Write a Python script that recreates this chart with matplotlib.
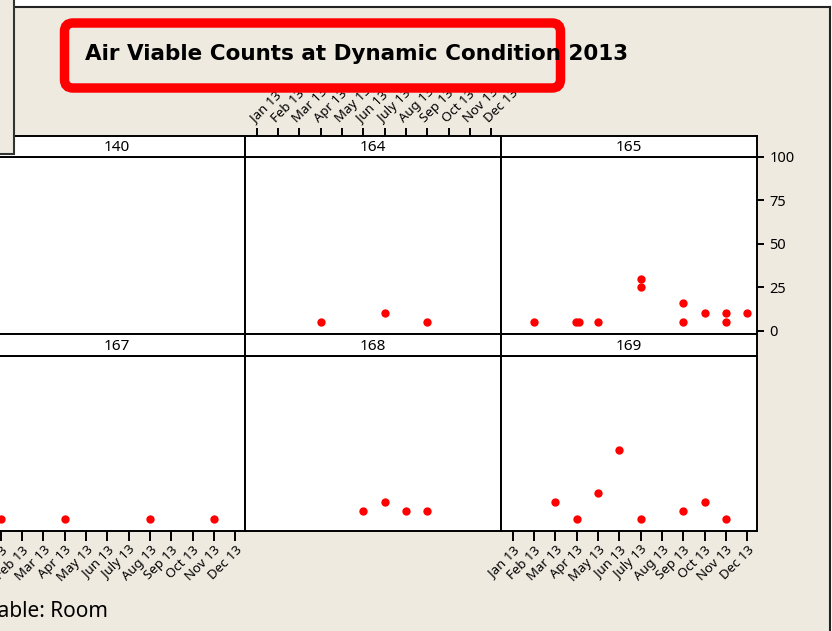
import matplotlib
matplotlib.use("Agg")
import matplotlib.pyplot as plt
from matplotlib.patches import Rectangle, FancyBboxPatch
from matplotlib.lines import Line2D

# ---------------------------------------------
# datos (mes 1 = Jan 13 ... 12 = Dec 13)
# ---------------------------------------------
month_labels = ['Jan 13', 'Feb 13', 'Mar 13', 'Apr 13', 'May 13', 'Jun 13',
                'July 13', 'Aug 13', 'Sep 13', 'Oct 13', 'Nov 13', 'Dec 13']
month_pos = list(range(1, 13))

room_140_month = []
room_140_count = []

room_164_month = [4, 7, 9]
room_164_count = [5, 10, 5]

room_165_month = [2, 3.95, 4.1, 5, 7, 7, 9, 9, 10, 11, 11, 12]
room_165_count = [5, 5, 5, 5, 30, 25, 16, 5, 10, 10, 5, 10]

room_167_month = [1, 4, 8, 11]
room_167_count = [5, 5, 5, 5]

room_168_month = [6, 7, 8, 9]
room_168_count = [10, 15, 10, 10]

room_169_month = [3, 4, 5, 6, 7, 9, 10, 11]
room_169_count = [15, 5, 20, 45, 5, 10, 15, 5]

rooms = ['140', '164', '165', '167', '168', '169']
months = [room_140_month, room_164_month, room_165_month,
          room_167_month, room_168_month, room_169_month]
counts = [room_140_count, room_164_count, room_165_count,
          room_167_count, room_168_count, room_169_count]

y_ticks = [0, 25, 50, 75, 100]

# ---------------------------------------------
# figura
# ---------------------------------------------
W, H = 832, 631
BG = '#EEEAE0'
FONT = 'Noto Sans'

fig = plt.figure(figsize=(W / 100, H / 100), dpi=100, facecolor=BG)


def rect_px(x0, y0, x1, y1):
    return [x0 / W, 1 - y1 / H, (x1 - x0) / W, (y1 - y0) / H]


def inch(x, y):
    return x / 100, (H - y) / 100


# zonas blancas fuera del marco
tr = fig.dpi_scale_trans
fig.add_artist(Rectangle(inch(0, 7), W / 100, 7 / 100, transform=tr,
                         facecolor='white', edgecolor='none', zorder=0))
fig.add_artist(Rectangle(inch(830, H), 2 / 100, H / 100, transform=tr,
                         facecolor='white', edgecolor='none', zorder=0))
fig.add_artist(Line2D([14 / 100, 830 / 100], [(H - 7) / 100] * 2, transform=tr,
                      color='#222222', lw=1.5, zorder=1))
fig.add_artist(Line2D([830 / 100] * 2, [(H - 7) / 100, 0], transform=tr,
                      color='#222222', lw=1.5, zorder=1))

# caja recortada a la izquierda
fig.add_artist(Rectangle(inch(-10, 154), 24 / 100, 164 / 100, transform=tr,
                         facecolor=BG, edgecolor='#333333', lw=1.5, zorder=2))

col_left = [-11, 245, 501]
col_w = 256
rows = [(136, 157, 334), (334, 356, 531)]

for i, room in enumerate(rooms):
    r, c = divmod(i, 3)
    s_top, p_top, p_bot = rows[r]
    x0 = col_left[c]
    x1 = x0 + col_w

    ax = fig.add_axes(rect_px(x0, p_top, x1, p_bot))
    ax.set_facecolor('white')
    ax.plot(months[i], counts[i], 'o', color='red', markersize=6,
            markeredgewidth=0, clip_on=False)
    ax.set_xlim(0.45, 12.45)
    ax.set_ylim(-1.9, 100)
    for sp in ax.spines.values():
        sp.set_linewidth(1.4)
        sp.set_color('black')
    ax.set_xticks([])
    ax.set_yticks([])

    if room == '165':
        ax.yaxis.tick_right()
        ax.set_yticks(y_ticks)
        ax.tick_params(axis='y', length=5, width=1.4, pad=4,
                       labelsize=10.5)
        for lab in ax.get_yticklabels():
            lab.set_fontfamily(FONT)

    if room in ('167', '169'):
        ax.set_xticks(month_pos)
        ax.set_xticklabels(month_labels, rotation=45, ha='right', va='top',
                           rotation_mode='anchor', fontfamily=FONT, fontsize=9.5)
        ax.tick_params(axis='x', length=7, width=1.4, pad=2)

    # franja con el nombre del cuarto
    st = fig.add_axes(rect_px(x0, s_top, x1, p_top))
    st.set_facecolor('white')
    st.set_xlim(0.45, 12.45)
    st.set_ylim(0, 1)
    st.set_yticks([])
    st.set_xticks([])
    for sp in st.spines.values():
        sp.set_linewidth(1.4)
        sp.set_color('black')
    st.text(0.5, 0.45, room, transform=st.transAxes, ha='center', va='center',
            fontsize=11, fontfamily=FONT)

    if room == '164':
        st.xaxis.tick_top()
        st.set_xticks(month_pos)
        st.set_xticklabels(month_labels, rotation=45, ha='left', va='bottom',
                           rotation_mode='anchor', fontfamily=FONT, fontsize=9.5)
        st.tick_params(axis='x', length=6, width=1.4, pad=2)

# titulo con recuadro rojo
fig.add_artist(FancyBboxPatch(inch(64.5, 88), 496 / 100, 65 / 100,
                              boxstyle='round,pad=0,rounding_size=0.085',
                              transform=tr, facecolor='none', edgecolor='red',
                              lw=6.8, zorder=5))
fig.text(85 / W, 1 - 60 / H, 'Air Viable Counts at Dynamic Condition 2013',
         fontsize=15.5, fontweight='bold', fontfamily='DejaVu Sans',
         ha='left', va='baseline', zorder=6)

fig.text(108 / W, 1 - 617 / H, 'Panel variable: Room', fontsize=15,
         fontfamily=FONT, ha='right', va='baseline')

fig.savefig('out.png', dpi=100, facecolor=BG)
